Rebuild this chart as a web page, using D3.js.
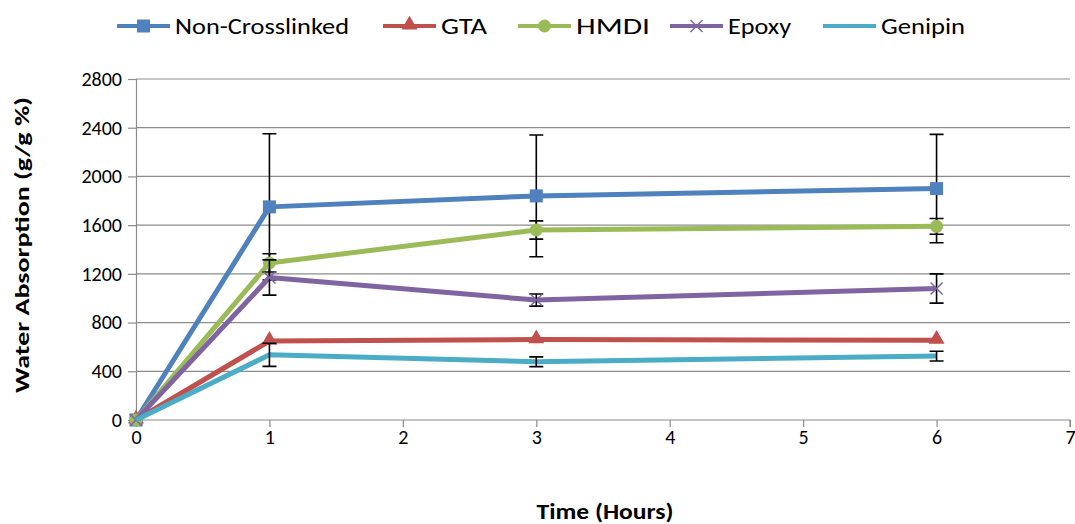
<!DOCTYPE html>
<html>
<head>
<meta charset="utf-8">
<script src="https://cdn.jsdelivr.net/npm/d3@7"></script>
<style>
  body { margin: 0; background: #fff; }
  text { font-family: Carlito, Calibri, "Open Sans", sans-serif; fill: #000; }
</style>
</head>
<body>
<div id="chart-area"></div>
<script>
// data
const hours = [0, 1, 3, 6];
const seriesNames = ["Non-Crosslinked", "GTA", "HMDI", "Epoxy", "Genipin"];
const nonCrosslinked = [0, 1750, 1840, 1900];
const nonCrosslinkedErr = [0, 600, 500, 445];
const gta = [0, 648, 660, 655];
const gtaErr = [0, 0, 0, 0];
const hmdi = [0, 1290, 1560, 1590];
const hmdiErr = [0, 75, 75, 65];
const epoxy = [0, 1170, 985, 1080];
const epoxyErr = [0, 145, 50, 120];
const genipin = [0, 535, 478, 525];
const genipinErr = [0, 95, 40, 40];
const xTicks = [0, 1, 2, 3, 4, 5, 6, 7];
const yTicks = [0, 400, 800, 1200, 1600, 2000, 2400, 2800];

const colors = ["#4F81BD", "#C0504D", "#9BBB59", "#8064A2", "#4BACC6"];
const markers = ["square", "triangle", "circle", "cross", "none"];
const values = [nonCrosslinked, gta, hmdi, epoxy, genipin];
const errs = [nonCrosslinkedErr, gtaErr, hmdiErr, epoxyErr, genipinErr];

const svg = d3.select("#chart-area")
    .append("svg")
    .attr("width", 1075)
    .attr("height", 524);

const x = d3.scaleLinear().domain([0, 7]).range([136, 1070]);
const y = d3.scaleLinear().domain([0, 2800]).range([420, 79]);

// gridlines
svg.append("g").selectAll("line")
    .data(yTicks.slice(1))
    .enter().append("line")
    .attr("x1", x(0)).attr("x2", x(7))
    .attr("y1", d => y(d)).attr("y2", d => y(d))
    .attr("stroke", "#8c8c8c").attr("stroke-width", 1.2);

// axes
const yAxis = svg.append("g")
    .attr("transform", "translate(" + x(0) + ",0)")
    .call(d3.axisLeft(y).tickValues(yTicks).tickFormat(d3.format("d")).tickSize(8).tickPadding(6));
const xAxis = svg.append("g")
    .attr("transform", "translate(0," + y(0) + ")")
    .call(d3.axisBottom(x).tickValues(xTicks).tickFormat(d3.format("d")).tickSize(7).tickPadding(3));
[xAxis, yAxis].forEach(function (a) {
    a.select(".domain").attr("stroke", "#8c8c8c").attr("stroke-width", 1.2);
    a.selectAll(".tick line").attr("stroke", "#8c8c8c").attr("stroke-width", 1.2);
    a.selectAll(".tick text").attr("font-size", 20).style("font-family", "Carlito, Calibri, 'Open Sans', sans-serif");
});
xAxis.select(".domain").attr("d", "M" + x(0) + ",0H" + x(7) + "V7");

const line = d3.line().x((d, i) => x(hours[i])).y(d => y(d));

function drawMarker(g, type, cx, cy, color) {
    if (type === "square") {
        g.append("rect").attr("x", cx - 6.5).attr("y", cy - 6.5)
            .attr("width", 13).attr("height", 13).attr("fill", color);
    } else if (type === "triangle") {
        g.append("path").attr("d", d3.symbol().type(d3.symbolTriangle).size(110)())
            .attr("transform", "translate(" + cx + "," + (cy - 1) + ")").attr("fill", color);
    } else if (type === "circle") {
        g.append("circle").attr("cx", cx).attr("cy", cy).attr("r", 6.5).attr("fill", color);
    } else if (type === "cross") {
        g.append("path")
            .attr("d", "M" + (cx - 6) + "," + (cy - 6) + "L" + (cx + 6) + "," + (cy + 6) +
                "M" + (cx + 6) + "," + (cy - 6) + "L" + (cx - 6) + "," + (cy + 6))
            .attr("stroke", color).attr("stroke-width", 1.5);
    }
}

values.forEach(function (vals, s) {
    const g = svg.append("g");
    g.append("path").datum(vals)
        .attr("d", line)
        .attr("fill", "none")
        .attr("stroke", colors[s])
        .attr("stroke-width", 5)
        .attr("stroke-linejoin", "round");
    vals.forEach(function (v, i) {
        const e = errs[s][i];
        if (e > 0) {
            const cx = x(hours[i]);
            g.append("path")
                .attr("d", "M" + cx + "," + y(v - e) + "V" + y(v + e) +
                    "M" + (cx - 7) + "," + y(v + e) + "H" + (cx + 7) +
                    "M" + (cx - 7) + "," + y(v - e) + "H" + (cx + 7))
                .attr("stroke", "#000").attr("stroke-width", 1.6).attr("fill", "none");
        }
        drawMarker(g, markers[s], x(hours[i]), y(v), colors[s]);
    });
});

// legend
const legendX = [117, 383, 518, 670, 823];
const legendW = [174, 46, 74, 63, 84];
const legend = svg.append("g");
seriesNames.forEach(function (name, s) {
    const lg = legend.append("g");
    lg.append("line").attr("x1", legendX[s]).attr("x2", legendX[s] + 53)
        .attr("y1", 26).attr("y2", 26)
        .attr("stroke", colors[s]).attr("stroke-width", 4);
    drawMarker(lg, markers[s], legendX[s] + 26.5, 26, colors[s]);
    lg.append("text").attr("x", legendX[s] + 58).attr("y", 34)
        .attr("font-size", 23)
        .attr("textLength", legendW[s]).attr("lengthAdjust", "spacingAndGlyphs")
        .text(name);
});

// axis titles
svg.append("text")
    .attr("x", 605).attr("y", 519)
    .attr("text-anchor", "middle")
    .attr("font-size", 22).attr("font-weight", "bold")
    .attr("textLength", 137).attr("lengthAdjust", "spacingAndGlyphs")
    .text("Time (Hours)");
svg.append("text")
    .attr("transform", "translate(29,245) rotate(-90)")
    .attr("text-anchor", "middle")
    .attr("font-size", 20).attr("font-weight", "bold")
    .attr("textLength", 296).attr("lengthAdjust", "spacingAndGlyphs")
    .text("Water Absorption (g/g %)");
</script>
</body>
</html>
